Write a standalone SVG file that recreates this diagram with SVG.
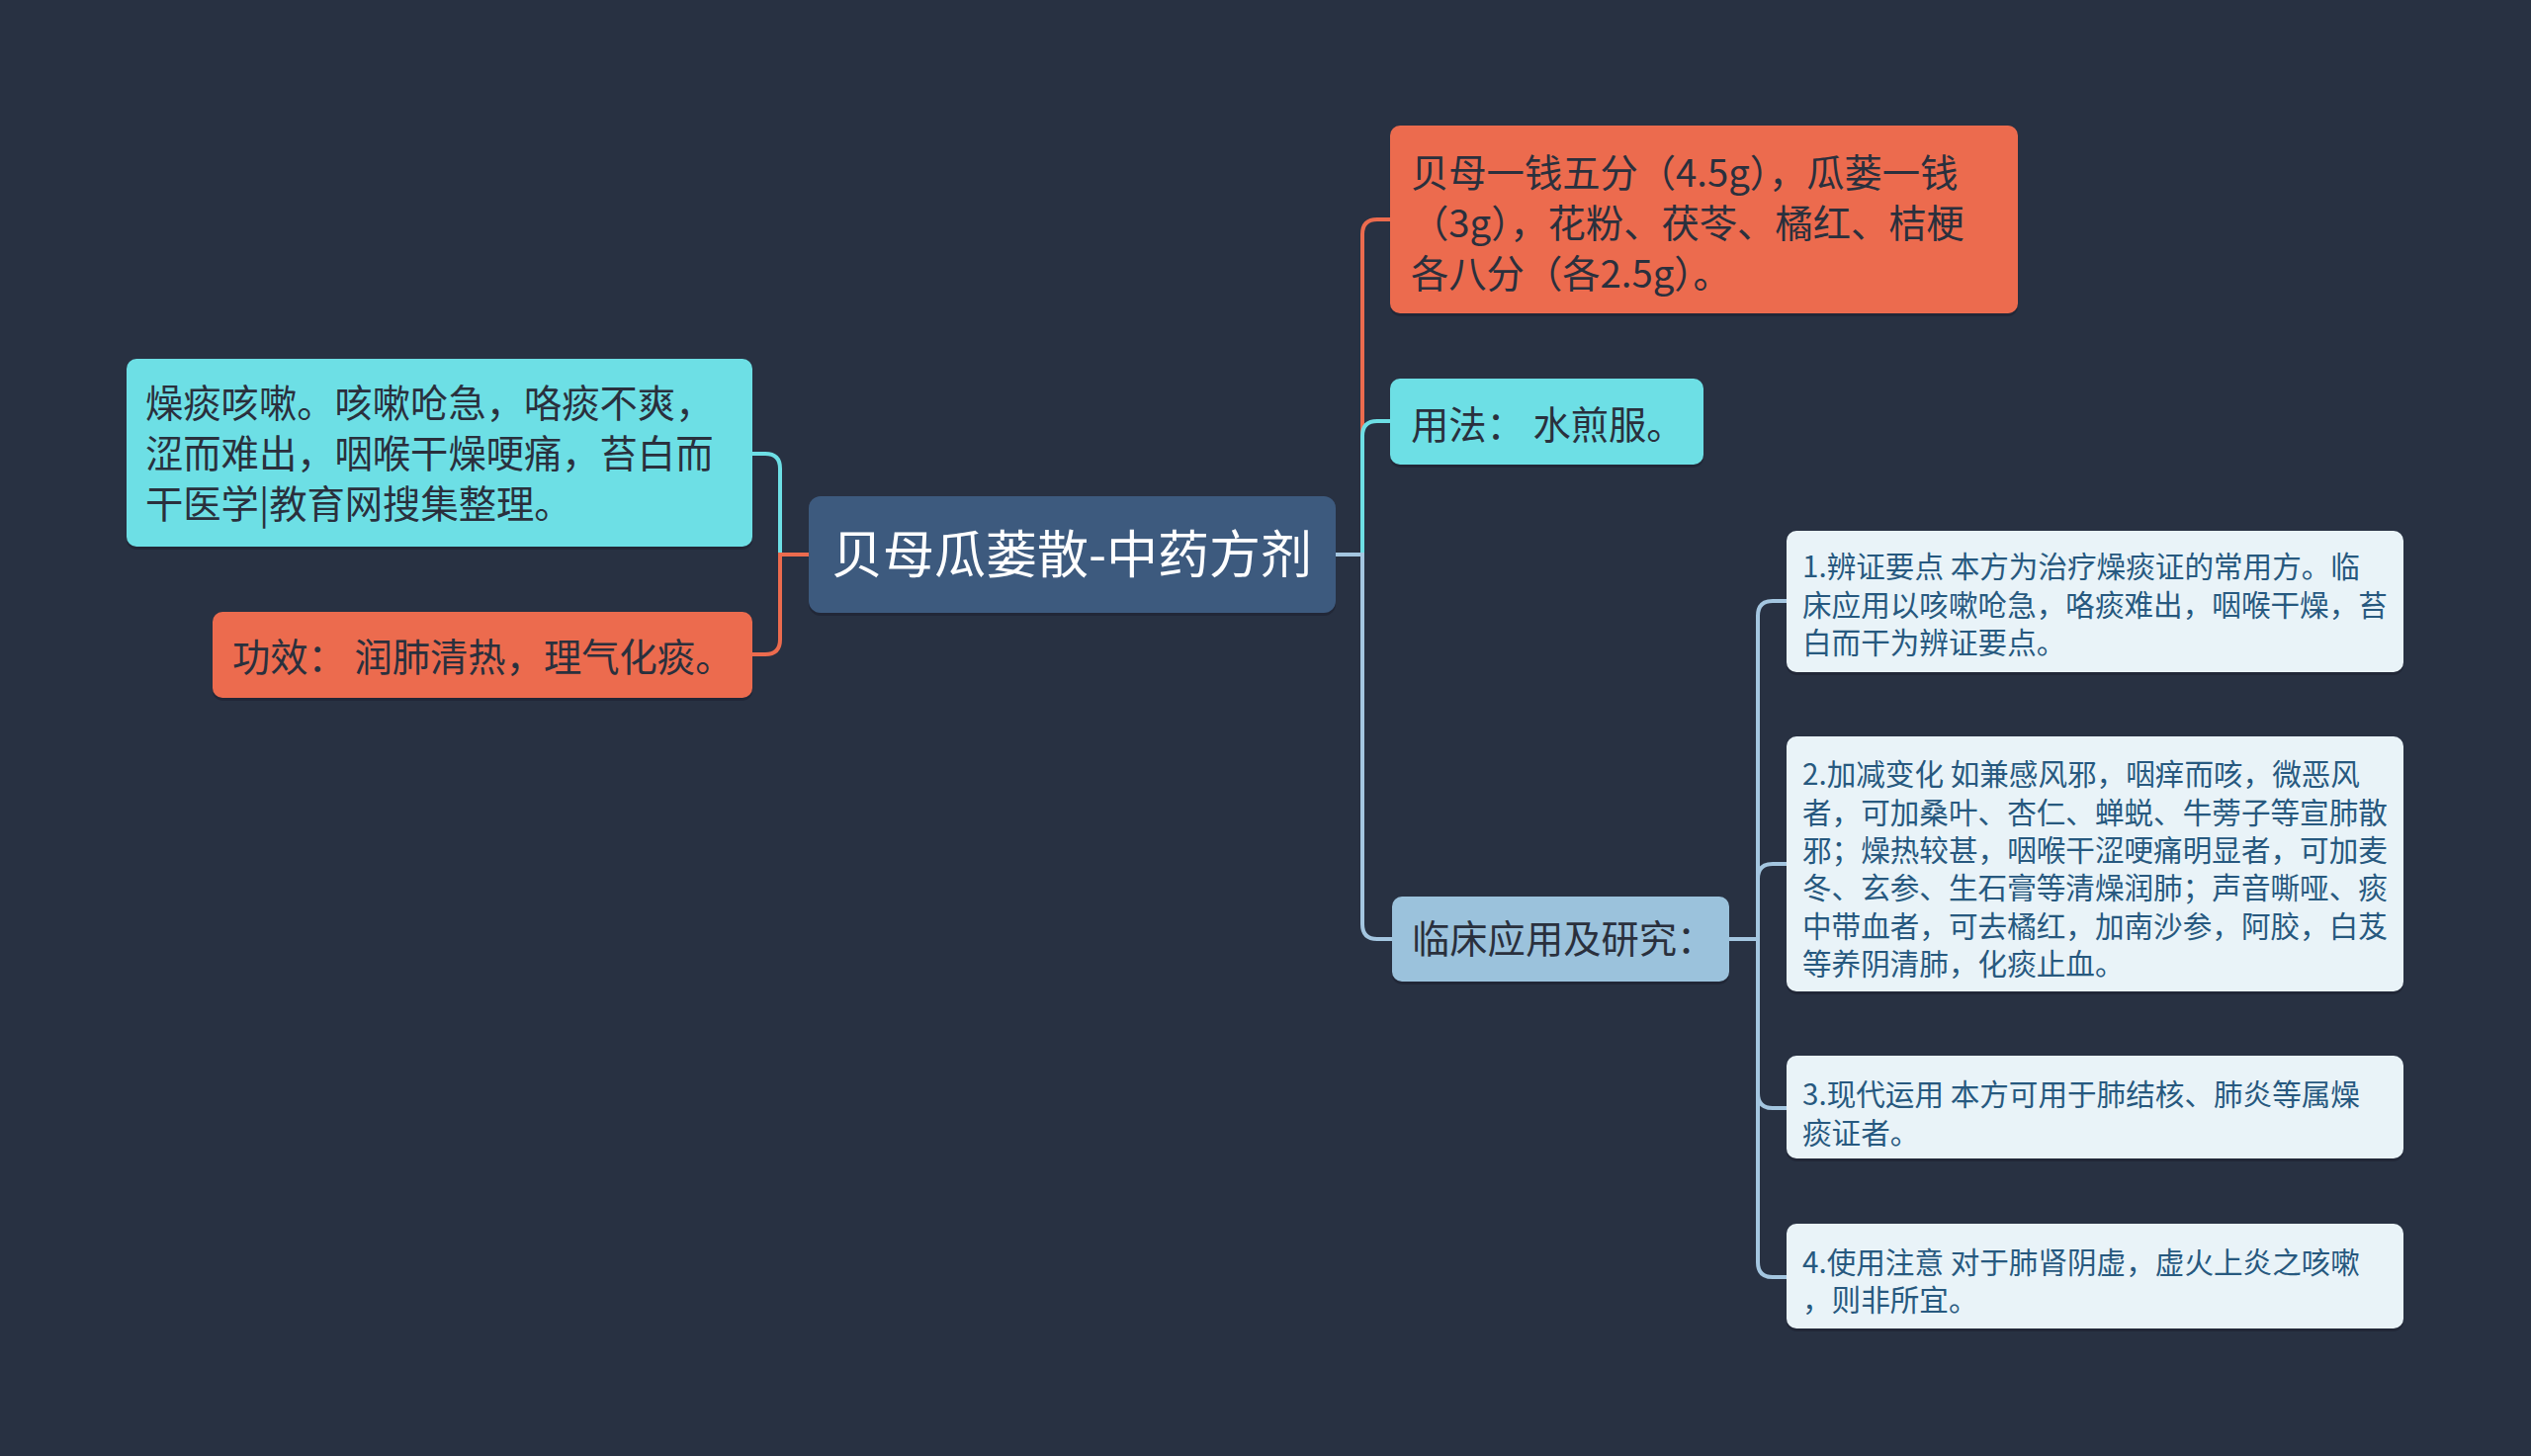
<svg xmlns="http://www.w3.org/2000/svg" width="2560" height="1473" viewBox="0 0 2560 1473">
<style>
text{font-family:"Noto Sans CJK SC","Noto Sans",sans-serif;}
.t38{font-size:38.3px;fill:#2a303d;}
.t30{font-size:29.6px;fill:#27597f;}
.title{font-size:52px;fill:#ffffff;}
.c{fill:none;stroke-width:4;}
.sh{fill:#1c2230;opacity:0.6;}
</style>
<rect x="0" y="0" width="2560" height="1473" fill="#283142"/>
<g id="connectors">
<path class="c" stroke="#6ddfe5" d="M818,561 H789 V474 Q789,459 774,459 H761"/>
<path class="c" stroke="#ec6b4e" d="M818,561 H789 V647 Q789,662 774,662 H761"/>
<path class="c" stroke="#ec6b4e" d="M1351,561 H1378 V237 Q1378,222 1393,222 H1406"/>
<path class="c" stroke="#6ddfe5" d="M1351,561 H1378 V441 Q1378,426 1393,426 H1406"/>
<path class="c" stroke="#a4c6e0" d="M1351,561 H1378 V935 Q1378,950 1393,950 H1408"/>
<path class="c" stroke="#a4c6e0" d="M1749,950 H1778 V623 Q1778,608 1793,608 H1807"/>
<path class="c" stroke="#a4c6e0" d="M1749,950 H1778 V889 Q1778,874 1793,874 H1807"/>
<path class="c" stroke="#a4c6e0" d="M1749,950 H1778 V1106 Q1778,1121 1793,1121 H1807"/>
<path class="c" stroke="#a4c6e0" d="M1749,950 H1778 V1277 Q1778,1292 1793,1292 H1807"/>
</g>
<g id="root">
<rect class="sh" x="818" y="505" width="533" height="118" rx="12"/>
<rect x="818" y="502" width="533" height="118" rx="12" fill="#3d5a7e"/>
<text class="title" x="1084" y="580" text-anchor="middle">贝母瓜蒌散-中药方剂</text>
</g>
<g id="n-symptoms">
<rect class="sh" x="128" y="366" width="633" height="190" rx="10"/>
<rect x="128" y="363" width="633" height="190" rx="10" fill="#6ddfe5"/>
<text class="t38" x="147" y="422">燥痰咳嗽。咳嗽呛急，咯痰不爽，</text>
<text class="t38" x="147" y="473">涩而难出，咽喉干燥哽痛，苔白而</text>
<text class="t38" x="147" y="524">干医学|教育网搜集整理。</text>
</g>
<g id="n-effect">
<rect class="sh" x="215" y="622" width="546" height="87" rx="10"/>
<rect x="215" y="619" width="546" height="87" rx="10" fill="#ec6b4e"/>
<text class="t38" x="235" y="679">功效：  润肺清热，理气化痰。</text>
</g>
<g id="n-formula">
<rect class="sh" x="1406" y="130" width="635" height="190" rx="10"/>
<rect x="1406" y="127" width="635" height="190" rx="10" fill="#ec6b4e"/>
<text class="t38" x="1427" y="189">贝母一钱五分（4.5g），瓜蒌一钱</text>
<text class="t38" x="1427" y="240">（3g），花粉、茯苓、橘红、桔梗</text>
<text class="t38" x="1427" y="291">各八分（各2.5g）。</text>
</g>
<g id="n-usage">
<rect class="sh" x="1406" y="386" width="317" height="87" rx="10"/>
<rect x="1406" y="383" width="317" height="87" rx="10" fill="#6ddfe5"/>
<text class="t38" x="1427" y="444">用法：  水煎服。</text>
</g>
<g id="n-clinical">
<rect class="sh" x="1408" y="910" width="341" height="86" rx="10"/>
<rect x="1408" y="907" width="341" height="86" rx="10" fill="#9bc2dc"/>
<text class="t38" x="1428" y="964">临床应用及研究：</text>
</g>
<g id="n-c1">
<rect class="sh" x="1807" y="540" width="624" height="143" rx="10"/>
<rect x="1807" y="537" width="624" height="143" rx="10" fill="#e9f3f8"/>
<text class="t30" x="1823" y="584">1.辨证要点 本方为治疗燥痰证的常用方。临</text>
<text class="t30" x="1823" y="623">床应用以咳嗽呛急，咯痰难出，咽喉干燥，苔</text>
<text class="t30" x="1823" y="661">白而干为辨证要点。</text>
</g>
<g id="n-c2">
<rect class="sh" x="1807" y="748" width="624" height="258" rx="10"/>
<rect x="1807" y="745" width="624" height="258" rx="10" fill="#e9f3f8"/>
<text class="t30" x="1823" y="794">2.加减变化 如兼感风邪，咽痒而咳，微恶风</text>
<text class="t30" x="1823" y="833">者，可加桑叶、杏仁、蝉蜕、牛蒡子等宣肺散</text>
<text class="t30" x="1823" y="871">邪；燥热较甚，咽喉干涩哽痛明显者，可加麦</text>
<text class="t30" x="1823" y="909">冬、玄参、生石膏等清燥润肺；声音嘶哑、痰</text>
<text class="t30" x="1823" y="948">中带血者，可去橘红，加南沙参，阿胶，白芨</text>
<text class="t30" x="1823" y="986">等养阴清肺，化痰止血。</text>
</g>
<g id="n-c3">
<rect class="sh" x="1807" y="1071" width="624" height="104" rx="10"/>
<rect x="1807" y="1068" width="624" height="104" rx="10" fill="#e9f3f8"/>
<text class="t30" x="1823" y="1118">3.现代运用 本方可用于肺结核、肺炎等属燥</text>
<text class="t30" x="1823" y="1157">痰证者。</text>
</g>
<g id="n-c4">
<rect class="sh" x="1807" y="1241" width="624" height="106" rx="10"/>
<rect x="1807" y="1238" width="624" height="106" rx="10" fill="#e9f3f8"/>
<text class="t30" x="1823" y="1288">4.使用注意 对于肺肾阴虚，虚火上炎之咳嗽</text>
<text class="t30" x="1823" y="1326">，则非所宜。</text>
</g>
</svg>
